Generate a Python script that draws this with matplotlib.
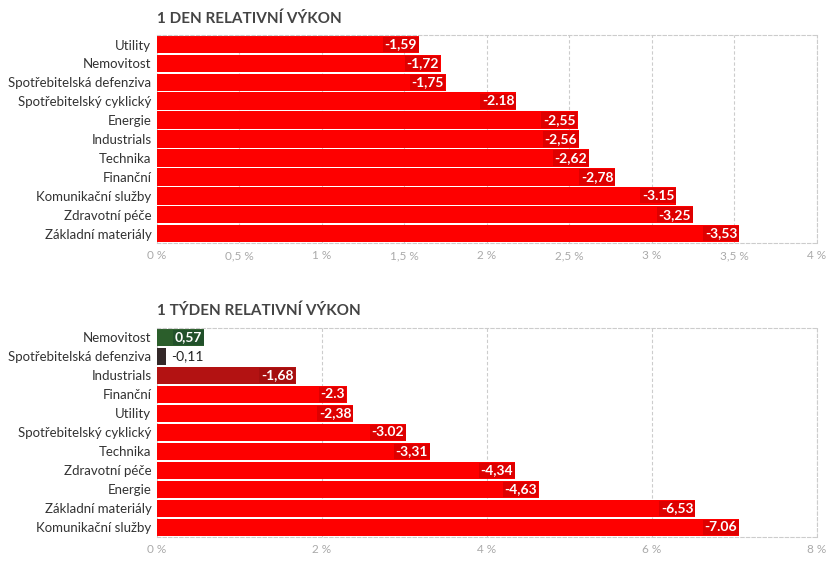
import matplotlib.pyplot as plt
from matplotlib.ticker import FuncFormatter

plt.rcParams['font.family'] = ['Lato', 'DejaVu Sans']

# 1 den
day_sectors = ['Utility', 'Nemovitost', 'Spotřebitelská defenziva', 'Spotřebitelský cyklický',
               'Energie', 'Industrials', 'Technika', 'Finanční', 'Komunikační služby',
               'Zdravotní péče', 'Základní materiály']
day_values = [-1.59, -1.72, -1.75, -2.18, -2.55, -2.56, -2.62, -2.78, -3.15, -3.25, -3.53]
day_labels = ['-1,59', '-1,72', '-1,75', '-2.18', '-2,55', '-2,56', '-2,62', '-2,78',
              '-3.15', '-3,25', '-3,53']

# 1 tyden
week_sectors = ['Nemovitost', 'Spotřebitelská defenziva', 'Industrials', 'Finanční', 'Utility',
                'Spotřebitelský cyklický', 'Technika', 'Zdravotní péče', 'Energie',
                'Základní materiály', 'Komunikační služby']
week_values = [0.57, -0.11, -1.68, -2.3, -2.38, -3.02, -3.31, -4.34, -4.63, -6.53, -7.06]
week_labels = ['0,57', '-0,11', '-1,68', '-2.3', '-2,38', '-3.02', '-3,31', '-4,34', '-4,63',
               '-6,53', '-7.06']

RED = '#fe0000'
RED_BOX = '#de0000'
week_colors = ['#2b5e2b', '#332828', '#b31212'] + [RED] * 8
week_boxes = ['#21502a', None, '#a50f0f'] + [RED_BOX] * 8

pct = FuncFormatter(lambda v, p: ('%g' % v).replace('.', ',') + ' %')


def draw(ax, title, sectors, values, labels, colors, boxes, xmax, step):
    n = len(sectors)
    ys = range(n)
    lengths = [abs(v) for v in values]
    ax.barh(ys, lengths, height=0.93, color=colors, zorder=2)
    for y, L, lab, box in zip(ys, lengths, labels, boxes):
        if box is None:
            ax.annotate(lab, (L, y), xytext=(4, 0), textcoords='offset points',
                        ha='left', va='center', fontsize=10, color='#222222', zorder=3)
        else:
            ax.annotate(lab, (L, y), xytext=(-1.4, 0), textcoords='offset points',
                        ha='right', va='center', fontsize=10, color='white',
                        fontweight='bold', zorder=3,
                        bbox=dict(boxstyle='square,pad=0.12', fc=box, ec='none'))
    ax.set_xlim(0, xmax)
    ax.set_ylim(n - 0.5, -0.5)
    ax.set_yticks(list(ys))
    ax.set_yticklabels(sectors, fontsize=9.5, color='#333333')
    ax.set_xticks([i * step for i in range(int(round(xmax / step)) + 1)])
    ax.xaxis.set_major_formatter(pct)
    ax.tick_params(axis='x', labelsize=8.5, colors='#aaaaaa', length=0, pad=5)
    ax.tick_params(axis='y', length=0, pad=4)
    ax.grid(axis='x', color='#cccccc', linestyle=(0, (3, 2)), linewidth=0.8, zorder=0)
    for s in ['top', 'right', 'bottom']:
        ax.spines[s].set_color('#cccccc')
        ax.spines[s].set_linestyle((0, (3, 2)))
        ax.spines[s].set_linewidth(0.8)
    ax.spines['left'].set_visible(False)
    ax.set_title(title, loc='left', fontsize=11, fontweight='bold', color='#444444', pad=9)


fig = plt.figure(figsize=(8.35, 5.62), dpi=100)
ax1 = fig.add_axes([0.188, 0.5676, 0.790, 0.370])
ax2 = fig.add_axes([0.188, 0.0445, 0.790, 0.372])

draw(ax1, '1 DEN RELATIVNÍ VÝKON', day_sectors, day_values, day_labels,
     [RED] * len(day_values), [RED_BOX] * len(day_values), 4, 0.5)
draw(ax2, '1 TÝDEN RELATIVNÍ VÝKON', week_sectors, week_values, week_labels,
     week_colors, week_boxes, 8, 2)

fig.savefig('out.png', dpi=100)
